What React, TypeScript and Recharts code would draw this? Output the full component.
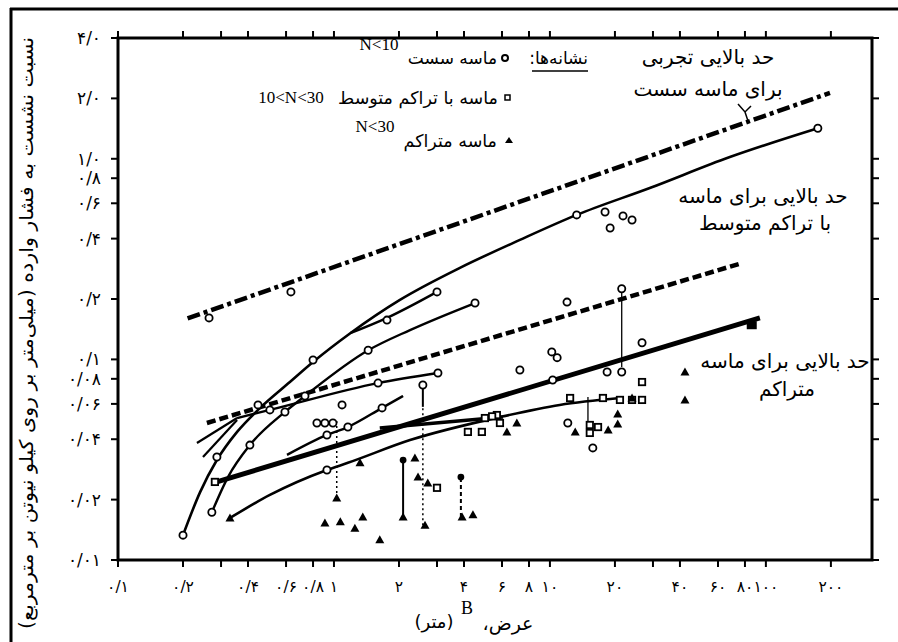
import React from "react";
import { ComposedChart, Line, Scatter, XAxis, YAxis } from "recharts";

type P = { b: number; r: number };

// axis ticks (log-log)
const X_TICKS = [0.1, 0.2, 0.3, 0.4, 0.6, 0.8, 1, 2, 3, 4, 6, 8, 10, 20, 30, 40, 60, 80, 100, 200];
const X_LABELS = ["۰/۱", "۰/۲", "", "۰/۴", "۰/۶", "۰/۸", "۱", "۲", "", "۴", "۶", "۸", "۱۰", "۲۰", "", "۴۰", "۶۰", "۸۰", "۱۰۰", "۲۰۰"];
const Y_TICKS = [0.01, 0.02, 0.04, 0.06, 0.08, 0.1, 0.2, 0.4, 0.6, 0.8, 1, 2, 4];
const Y_LABELS = ["۰/۰۱", "۰/۰۲", "۰/۰۴", "۰/۰۶", "۰/۰۸", "۰/۱", "۰/۲", "۰/۴", "۰/۶", "۰/۸", "۱/۰", "۲/۰", "۴/۰"];

// upper-limit lines
const looseLimit: P[] = [{ b: 0.21, r: 0.16 }, { b: 198, r: 2.13 }];
const mediumLimit: P[] = [{ b: 0.258, r: 0.0482 }, { b: 77.4, r: 0.302 }];
const denseLimit: P[] = [{ b: 0.287, r: 0.0245 }, { b: 93.8, r: 0.161 }];

// test curves
const bigCurve: P[] = [
  { b: 0.2, r: 0.0133 }, { b: 0.24, r: 0.0218 }, { b: 0.287, r: 0.0315 }, { b: 0.356, r: 0.0435 },
  { b: 0.445, r: 0.056 }, { b: 0.625, r: 0.0771 }, { b: 0.8, r: 0.097 }, { b: 1.19, r: 0.135 },
  { b: 2.02, r: 0.198 }, { b: 3.83, r: 0.286 }, { b: 7.26, r: 0.394 }, { b: 13.3, r: 0.525 },
  { b: 29, r: 0.715 }, { b: 68.1, r: 1.02 }, { b: 174, r: 1.42 },
];
const branchCurve: P[] = [{ b: 1.19, r: 0.135 }, { b: 1.76, r: 0.161 }, { b: 3.0, r: 0.217 }];
const secondCurve: P[] = [
  { b: 0.272, r: 0.0173 }, { b: 0.323, r: 0.0259 }, { b: 0.408, r: 0.0374 }, { b: 0.593, r: 0.0547 },
  { b: 0.734, r: 0.0657 }, { b: 1.44, r: 0.111 }, { b: 2.25, r: 0.14 }, { b: 4.5, r: 0.191 },
];
const shortLine: P[] = [{ b: 0.356, r: 0.051 }, { b: 0.505, r: 0.056 }, { b: 1.6, r: 0.0762 }, { b: 3.03, r: 0.0855 }];
const midLine: P[] = [{ b: 0.606, r: 0.0334 }, { b: 0.928, r: 0.042 }, { b: 1.16, r: 0.046 }, { b: 1.67, r: 0.0573 }, { b: 2.09, r: 0.0657 }];
const flatLine: P[] = [{ b: 1.63, r: 0.0455 }, { b: 6.06, r: 0.0516 }];
const lowerLine: P[] = [
  { b: 0.33, r: 0.0162 }, { b: 0.505, r: 0.0211 }, { b: 0.928, r: 0.0281 }, { b: 1.16, r: 0.0305 },
  { b: 2.25, r: 0.0396 }, { b: 5.87, r: 0.0516 }, { b: 11.1, r: 0.0593 }, { b: 21.1, r: 0.0642 },
];
const stubA: P[] = [{ b: 0.232, r: 0.0383 }, { b: 0.356, r: 0.051 }];
const stubB: P[] = [{ b: 0.2475, r: 0.0326 }, { b: 0.356, r: 0.0499 }];

// vertical ranges
const rangeA: P[] = [{ b: 1.03, r: 0.0204 }, { b: 1.03, r: 0.0499 }];
const rangeB: P[] = [{ b: 2.09, r: 0.0164 }, { b: 2.09, r: 0.0315 }];
const rangeC: P[] = [{ b: 2.58, r: 0.0149 }, { b: 2.58, r: 0.058 }];
const rangeC2: P[] = [{ b: 2.58, r: 0.058 }, { b: 2.58, r: 0.0745 }];
const rangeD: P[] = [{ b: 3.87, r: 0.0164 }, { b: 3.87, r: 0.0259 }];
const rangeE: P[] = [{ b: 21.5, r: 0.0917 }, { b: 21.5, r: 0.222 }];
const rangeF: P[] = [{ b: 15.0, r: 0.043 }, { b: 15.0, r: 0.0649 }];

// markers
const looseSand: P[] = [
  { b: 0.264, r: 0.161 }, { b: 0.632, r: 0.217 }, { b: 0.2, r: 0.0133 }, { b: 0.287, r: 0.0326 },
  { b: 0.445, r: 0.0593 }, { b: 0.8, r: 0.0993 }, { b: 13.3, r: 0.525 }, { b: 174, r: 1.42 },
  { b: 1.76, r: 0.157 }, { b: 3.0, r: 0.217 }, { b: 0.272, r: 0.0173 }, { b: 0.408, r: 0.0374 },
  { b: 0.593, r: 0.0547 }, { b: 0.734, r: 0.0657 }, { b: 1.44, r: 0.111 }, { b: 0.505, r: 0.056 },
  { b: 1.6, r: 0.0762 }, { b: 0.928, r: 0.042 }, { b: 1.16, r: 0.046 }, { b: 1.67, r: 0.0573 },
  { b: 0.928, r: 0.0281 }, { b: 0.834, r: 0.0482 }, { b: 0.908, r: 0.0482 }, { b: 0.989, r: 0.0482 },
  { b: 1.09, r: 0.0593 }, { b: 7.26, r: 0.0885 }, { b: 10.2, r: 0.109 }, { b: 10.8, r: 0.102 },
  { b: 10.3, r: 0.0789 }, { b: 15.8, r: 0.0362 }, { b: 18.0, r: 0.543 }, { b: 19.0, r: 0.452 },
  { b: 21.8, r: 0.519 }, { b: 24.0, r: 0.495 }, { b: 26.7, r: 0.121 }, { b: 12.0, r: 0.193 },
  { b: 18.4, r: 0.0865 }, { b: 21.5, r: 0.0865 }, { b: 12.1, r: 0.0482 }, { b: 4.5, r: 0.191 },
  { b: 2.58, r: 0.0745 }, { b: 3.03, r: 0.0855 }, { b: 21.5, r: 0.225 },
];
const mediumSand: P[] = [
  { b: 4.17, r: 0.0435 }, { b: 4.84, r: 0.0435 }, { b: 5.68, r: 0.0528 }, { b: 5.87, r: 0.0482 },
  { b: 5.0, r: 0.051 }, { b: 5.4, r: 0.052 }, { b: 12.4, r: 0.0642 }, { b: 15.3, r: 0.0471 },
  { b: 15.3, r: 0.043 }, { b: 16.7, r: 0.046 }, { b: 21.1, r: 0.0628 }, { b: 26.7, r: 0.0771 },
  { b: 26.7, r: 0.0628 }, { b: 24.0, r: 0.0628 }, { b: 3.0, r: 0.0229 }, { b: 0.281, r: 0.0245 },
  { b: 17.6, r: 0.0642 },
];
const denseSand: P[] = [
  { b: 1.03, r: 0.0204 }, { b: 0.908, r: 0.0153 }, { b: 1.07, r: 0.0155 }, { b: 1.25, r: 0.0144 },
  { b: 1.36, r: 0.0164 }, { b: 1.63, r: 0.0126 }, { b: 2.09, r: 0.0164 }, { b: 2.37, r: 0.0322 },
  { b: 2.64, r: 0.0149 }, { b: 2.45, r: 0.0259 }, { b: 2.72, r: 0.0242 }, { b: 3.92, r: 0.0164 },
  { b: 4.4, r: 0.0168 }, { b: 7.03, r: 0.0482 }, { b: 6.32, r: 0.0435 }, { b: 13.1, r: 0.0435 },
  { b: 18.6, r: 0.0445 }, { b: 20.6, r: 0.0534 }, { b: 20.6, r: 0.0476 }, { b: 24.0, r: 0.0642 },
  { b: 42.2, r: 0.0865 }, { b: 42.2, r: 0.0628 }, { b: 1.32, r: 0.0305 }, { b: 0.33, r: 0.0162 },
];
const solidDots: P[] = [{ b: 2.09, r: 0.0315 }, { b: 3.87, r: 0.0259 }];
const solidSquares: P[] = [{ b: 86, r: 0.148 }];

const LINES = [
  { data: looseLimit, w: 4.5, dash: "13 4 4 4", type: "linear" },
  { data: mediumLimit, w: 4.5, dash: "9 4", type: "linear" },
  { data: denseLimit, w: 5, dash: undefined, type: "linear" },
  { data: bigCurve, w: 2.6, dash: undefined, type: "monotone" },
  { data: branchCurve, w: 2.4, dash: undefined, type: "monotone" },
  { data: secondCurve, w: 2.4, dash: undefined, type: "monotone" },
  { data: shortLine, w: 2.4, dash: undefined, type: "monotone" },
  { data: midLine, w: 2.4, dash: undefined, type: "monotone" },
  { data: flatLine, w: 3.5, dash: undefined, type: "linear" },
  { data: lowerLine, w: 2.6, dash: undefined, type: "monotone" },
  { data: stubA, w: 2.2, dash: undefined, type: "linear" },
  { data: stubB, w: 2.2, dash: undefined, type: "linear" },
  { data: rangeA, w: 1.5, dash: "2 3", type: "linear" },
  { data: rangeB, w: 2, dash: undefined, type: "linear" },
  { data: rangeC, w: 1.5, dash: "2 3", type: "linear" },
  { data: rangeC2, w: 2, dash: undefined, type: "linear" },
  { data: rangeD, w: 2, dash: "4 3", type: "linear" },
  { data: rangeE, w: 1.3, dash: undefined, type: "linear" },
  { data: rangeF, w: 1.3, dash: undefined, type: "linear" },
];

const FA = "'DejaVu Sans', sans-serif";
const SERIF = "'Liberation Serif', serif";

const circleShape = (p: any) => (
  <circle cx={p.cx} cy={p.cy} r={3.6} fill="#fff" stroke="#000" strokeWidth={1.8} />
);
const squareShape = (p: any) => (
  <rect x={p.cx - 3.2} y={p.cy - 3.2} width={6.4} height={6.4} fill="#fff" stroke="#000" strokeWidth={1.8} />
);
const triangleShape = (p: any) => (
  <path d={`M${p.cx},${p.cy - 4.5}L${p.cx + 4.5},${p.cy + 3.5}L${p.cx - 4.5},${p.cy + 3.5}Z`} fill="#000" />
);
const dotShape = (p: any) => <circle cx={p.cx} cy={p.cy} r={3.4} fill="#000" />;
const blockShape = (p: any) => <rect x={p.cx - 5} y={p.cy - 4} width={10} height={8} fill="#000" />;

const rtl = { direction: "rtl" as const };

export default function App() {
  const tickLine = { stroke: "#000", strokeWidth: 2 };
  const xTickStyle = { fill: "#000", fontSize: 15.5, fontFamily: FA };
  const yTickStyle = { fill: "#000", fontSize: 17, fontFamily: FA };
  return (
    <div style={{ position: "absolute", left: 0, top: 0, width: 898, height: 642, background: "#fff" }}>
      <ComposedChart width={898} height={642} margin={{ top: 18, right: 6, bottom: 52, left: 58 }}>
        <XAxis
          dataKey="b"
          type="number"
          scale="log"
          domain={[0.1, 310]}
          allowDataOverflow
          ticks={X_TICKS}
          interval={0}
          tickFormatter={(v: number) => X_LABELS[X_TICKS.indexOf(v)] ?? ""}
          tick={xTickStyle}
          tickSize={7}
          tickMargin={14}
          height={30}
          axisLine={false}
          tickLine={tickLine}
        />
        <XAxis
          xAxisId="top"
          orientation="top"
          dataKey="b"
          type="number"
          scale="log"
          domain={[0.1, 310]}
          allowDataOverflow
          ticks={X_TICKS}
          interval={0}
          tickFormatter={() => ""}
          tickSize={7}
          height={20}
          axisLine={false}
          tickLine={tickLine}
        />
        <YAxis
          dataKey="r"
          type="number"
          scale="log"
          domain={[0.01, 4]}
          allowDataOverflow
          ticks={Y_TICKS}
          interval={0}
          tickFormatter={(v: number) => Y_LABELS[Y_TICKS.indexOf(v)] ?? ""}
          tick={yTickStyle}
          tickSize={7}
          tickMargin={10}
          width={60}
          axisLine={false}
          tickLine={tickLine}
        />
        <YAxis
          yAxisId="right"
          orientation="right"
          dataKey="r"
          type="number"
          scale="log"
          domain={[0.01, 4]}
          allowDataOverflow
          ticks={Y_TICKS}
          interval={0}
          tickFormatter={() => ""}
          tickSize={7}
          width={20}
          axisLine={false}
          tickLine={tickLine}
        />
        {LINES.map((l, i) => (
          <Line
            key={`l${i}`}
            data={l.data}
            dataKey="r"
            type={l.type as any}
            stroke="#000"
            strokeWidth={l.w}
            strokeDasharray={l.dash}
            dot={false}
            activeDot={false}
            isAnimationActive={false}
          />
        ))}
        <Scatter data={looseSand} shape={circleShape} isAnimationActive={false} />
        <Scatter data={mediumSand} shape={squareShape} isAnimationActive={false} />
        <Scatter data={denseSand} shape={triangleShape} isAnimationActive={false} />
        <Scatter data={solidDots} shape={dotShape} isAnimationActive={false} />
        <Scatter data={solidSquares} shape={blockShape} isAnimationActive={false} />
      </ComposedChart>
      <svg width={898} height={642} style={{ position: "absolute", left: 0, top: 0, pointerEvents: "none" }}>
        {/* page frame and plot box */}
        <line x1={10} y1={9} x2={898} y2={9} stroke="#000" strokeWidth={3} />
        <line x1={11} y1={8} x2={11} y2={642} stroke="#000" strokeWidth={3} />
        <rect x={118} y={38} width={754} height={522} fill="none" stroke="#000" strokeWidth={3} />
        {/* y axis title */}
        <text
          transform="translate(33,333) rotate(-90)"
          textAnchor="middle"
          fontFamily={FA}
          fontSize={19}
          style={rtl}
          textLength={592}
          lengthAdjust="spacingAndGlyphs"
        >
          نسبت نشست به فشار وارده (میلی‌متر بر روی کیلو نیوتن بر مترمربع)
        </text>
        {/* x axis title */}
        <text x={434} y={628} textAnchor="middle" fontFamily={FA} fontSize={18} style={rtl}>(متر)</text>
        <text x={467} y={614} textAnchor="middle" fontFamily={SERIF} fontSize={18}>B</text>
        <text x={508} y={630} textAnchor="middle" fontFamily={FA} fontSize={19} style={rtl}>عرض،</text>
        {/* legend */}
        <text x={588} y={64} textAnchor="start" fontFamily={FA} fontSize={17} style={rtl}>نشانه‌ها:</text>
        <line x1={532} y1={71} x2={588} y2={71} stroke="#000" strokeWidth={1.5} />
        <circle cx={505} cy={58} r={3} fill="#fff" stroke="#000" strokeWidth={2} />
        <text x={497} y={64} textAnchor="start" fontFamily={FA} fontSize={17} style={rtl}>ماسه سست</text>
        <text x={379} y={50} textAnchor="middle" fontFamily={SERIF} fontSize={17}>N&lt;10</text>
        <rect x={505} y={95} width={5} height={5} fill="#fff" stroke="#000" strokeWidth={1.5} />
        <text x={498} y={104} textAnchor="start" fontFamily={FA} fontSize={17.5} style={rtl}>ماسه با تراکم متوسط</text>
        <text x={291} y={103} textAnchor="middle" fontFamily={SERIF} fontSize={17}>10&lt;N&lt;30</text>
        <path d="M505,143 L509,137 L513,143 Z" fill="#000" />
        <text x={497} y={147} textAnchor="start" fontFamily={FA} fontSize={17.5} style={rtl}>ماسه متراکم</text>
        <text x={375} y={132} textAnchor="middle" fontFamily={SERIF} fontSize={17}>N&lt;30</text>
        {/* annotations */}
        <text x={708} y={64} textAnchor="middle" fontFamily={FA} fontSize={20} style={rtl}>حد بالایی تجربی</text>
        <text x={708} y={96} textAnchor="middle" fontFamily={FA} fontSize={20} style={rtl}>برای ماسه سست</text>
        <path d="M738,104 L745,112 L751,106 M745,112 L748,121" stroke="#000" strokeWidth={1.5} fill="none" />
        <text x={763} y={203} textAnchor="middle" fontFamily={FA} fontSize={20} style={rtl}>حد بالایی برای ماسه</text>
        <text x={765} y={230} textAnchor="middle" fontFamily={FA} fontSize={20} style={rtl}>با تراکم متوسط</text>
        <text x={785} y={368} textAnchor="middle" fontFamily={FA} fontSize={20} style={rtl}>حد بالایی برای ماسه</text>
        <text x={787} y={396} textAnchor="middle" fontFamily={FA} fontSize={20} style={rtl}>متراکم</text>
      </svg>
    </div>
  );
}
